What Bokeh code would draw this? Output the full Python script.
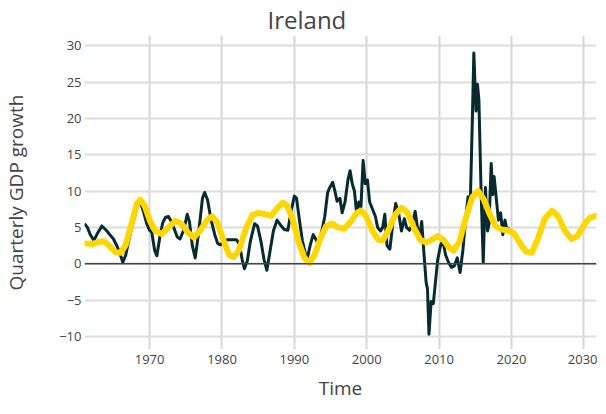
from bokeh.plotting import figure
from bokeh.models import Range1d, FixedTicker, Span, Title
from bokeh.embed import file_html
from bokeh.resources import INLINE

# Actual quarterly GDP growth (year, %)
gdp_year = [1961.0, 1961.4, 1961.8, 1962.3, 1962.8, 1963.4, 1964.0, 1964.5, 1965.0, 1965.5,
            1965.9, 1966.3, 1966.7, 1967.2, 1967.8, 1968.4, 1968.7, 1969.2, 1969.6, 1970.0,
            1970.3, 1970.7, 1971.0, 1971.4, 1971.8, 1972.2, 1972.6, 1973.0, 1973.4, 1973.8,
            1974.2, 1974.7, 1975.2, 1975.5, 1975.9, 1976.3, 1976.8, 1977.3, 1977.6, 1978.0,
            1978.5, 1979.0, 1979.4, 1979.8, 1980.3, 1980.8, 1981.4, 1982.0, 1982.4, 1982.8,
            1983.1, 1983.5, 1983.9, 1984.5, 1984.9, 1985.4, 1985.8, 1986.2, 1986.6, 1987.1,
            1987.6, 1988.1, 1988.6, 1989.1, 1989.6, 1990.0, 1990.3, 1990.7, 1991.1, 1991.5,
            1991.8, 1992.2, 1992.6, 1993.0, 1993.3, 1993.8, 1994.2, 1994.6, 1994.9, 1995.3,
            1995.6, 1995.9, 1996.3, 1996.6, 1997.0, 1997.4, 1997.7, 1998.0, 1998.3, 1998.6,
            1998.9, 1999.2, 1999.5, 1999.8, 2000.1, 2000.4, 2000.8, 2001.2, 2001.5, 2001.9,
            2002.2, 2002.5, 2002.8, 2003.2, 2003.6, 2004.0, 2004.4, 2004.8, 2005.2, 2005.5,
            2005.9, 2006.3, 2006.7, 2007.0, 2007.3, 2007.6, 2007.9, 2008.2, 2008.4, 2008.6,
            2008.9, 2009.2, 2009.5, 2009.8, 2010.2, 2010.5, 2010.9, 2011.3, 2011.7, 2012.1,
            2012.5, 2012.9, 2013.3, 2013.7, 2014.0, 2014.3, 2014.6, 2014.8, 2015.1, 2015.3,
            2015.5, 2015.8, 2016.1, 2016.4, 2016.7, 2016.9, 2017.2, 2017.4, 2017.6, 2017.9,
            2018.2, 2018.5, 2018.8, 2019.1, 2019.4, 2019.7]
gdp_growth = [5.5, 5.0, 4.0, 3.2, 4.2, 5.2, 4.6, 4.0, 3.4, 2.4,
              1.4, 0.2, 1.2, 3.6, 6.0, 8.2, 8.5, 7.0, 5.5, 4.6,
              4.3, 1.8, 1.1, 3.6, 5.6, 6.4, 6.5, 5.8, 4.8, 3.7,
              3.4, 4.6, 6.8, 5.8, 2.5, 0.8, 4.5, 9.0, 9.8, 8.8,
              6.0, 4.0, 2.8, 2.6, 3.2, 3.3, 3.3, 3.3, 2.7, 0.5,
              -0.7, 0.4, 3.0, 5.5, 5.2, 3.0, 0.6, -0.9, 1.5, 4.5,
              6.0, 5.3, 4.7, 4.6, 7.5, 9.3, 9.0, 6.0, 3.2, 1.5,
              0.8, 2.6, 4.0, 3.3, 2.7, 4.5, 6.5, 9.8, 10.5, 11.2,
              10.0, 8.6, 9.0, 7.0, 8.5, 11.5, 12.8, 11.0, 10.0, 7.0,
              8.5, 7.8, 14.2, 11.0, 11.5, 8.5, 7.5, 6.5, 5.0, 4.5,
              5.0, 6.8, 2.5, 2.0, 5.5, 8.3, 7.0, 4.5, 6.2, 5.0,
              4.6, 5.5, 7.2, 5.0, 3.6, 5.8, 1.5, -2.5, -3.5, -9.7,
              -5.2, -5.5, -2.5, 0.5, 2.5, 3.2, 1.2, 0.2, -0.5, -0.3,
              0.8, -1.2, 2.0, 6.5, 9.2, 8.0, 20.0, 29.0, 21.0, 24.7,
              22.5, 10.0, 0.2, 10.5, 4.5, 5.5, 13.8, 9.5, 12.0, 9.0,
              6.0, 7.0, 4.0, 6.0, 4.5, 5.0]

# Smooth cycle / forecast line (year, %)
cyc_year = [1961.0, 1962.0, 1963.0, 1963.7, 1964.5, 1965.3, 1966.0, 1966.7, 1967.5, 1968.2,
            1968.7, 1969.3, 1970.0, 1970.8, 1971.7, 1972.6, 1973.6, 1974.4, 1975.3, 1976.1,
            1977.0, 1978.0, 1978.6, 1979.3, 1980.2, 1981.0, 1981.6, 1982.4, 1983.3, 1984.2,
            1985.0, 1986.0, 1986.8, 1987.6, 1988.4, 1989.0, 1989.8, 1990.6, 1991.4, 1992.1,
            1992.8, 1993.6, 1994.4, 1995.2, 1996.0, 1996.9, 1997.8, 1998.6, 1999.2, 1999.9,
            2000.8, 2001.6, 2002.2, 2003.0, 2003.9, 2004.8, 2005.6, 2006.5, 2007.4, 2008.2,
            2009.0, 2009.8, 2010.6, 2011.4, 2012.0, 2012.8, 2013.6, 2014.6, 2015.4, 2016.2,
            2017.0, 2017.8, 2018.6, 2019.5, 2020.3, 2021.2, 2022.0, 2022.8, 2023.6, 2024.6,
            2025.6, 2026.4, 2027.4, 2028.3, 2029.1, 2030.0, 2030.8, 2031.75]
cyc_value = [2.8, 2.7, 3.0, 3.1, 2.4, 1.6, 1.5, 2.6, 5.5, 8.2,
             8.8, 8.0, 6.0, 4.5, 4.1, 5.0, 5.9, 5.5, 4.3, 3.6,
             4.6, 6.1, 6.5, 5.8, 3.2, 1.2, 0.9, 2.0, 4.8, 6.7,
             7.0, 6.8, 6.6, 7.6, 8.4, 8.0, 6.0, 3.0, 0.8, 0.1,
             1.2, 3.5, 5.2, 5.5, 5.0, 4.8, 5.8, 7.0, 7.3, 6.6,
             4.5, 3.3, 3.2, 4.6, 6.7, 7.7, 7.1, 5.0, 3.3, 2.9,
             3.3, 3.8, 3.3, 2.2, 1.8, 3.0, 6.0, 9.2, 10.0, 8.8,
             6.8, 5.2, 4.7, 4.6, 4.2, 2.8, 1.7, 1.5, 3.3, 6.2,
             7.3, 6.6, 4.5, 3.4, 3.8, 5.3, 6.3, 6.6]

x_ticks = [1970, 1980, 1990, 2000, 2010, 2020, 2030]
y_ticks = [-10, -5, 0, 5, 10, 15, 20, 25, 30]

FONT = "Open Sans"
TXT = "#444444"

p = figure(frame_width=512, frame_height=314, output_backend="svg", toolbar_location=None,
           x_range=Range1d(1961.0, 2031.75), y_range=Range1d(-11.8, 31.4),
           min_border_left=77, min_border_right=1, min_border_top=27, min_border_bottom=57)
p.outline_line_color = None
p.background_fill_color = "white"
p.border_fill_color = "white"

t = Title(text="Ireland", align="left", text_font=FONT, text_font_size="24px",
          text_color=TXT, text_font_style="normal", offset=183, standoff=0)
p.add_layout(t, "above")

p.xaxis.ticker = FixedTicker(ticks=x_ticks)
p.yaxis.ticker = FixedTicker(ticks=y_ticks)
p.yaxis.major_label_overrides = {-10: "\u221210", -5: "\u22125"}

for ax in (p.xaxis, p.yaxis):
    ax.axis_line_color = None
    ax.major_tick_line_color = None
    ax.minor_tick_line_color = None
    ax.major_tick_out = 0
    ax.major_tick_in = 0
    ax.minor_tick_out = 0
    ax.minor_tick_in = 0
    ax.major_label_text_font = FONT
    ax.major_label_text_font_size = "13px"
    ax.major_label_text_color = TXT
    ax.axis_label_text_font = FONT
    ax.axis_label_text_font_size = "19px"
    ax.axis_label_text_color = TXT
    ax.axis_label_text_font_style = "normal"

p.xaxis.axis_label = "Time"
p.yaxis.axis_label = "Quarterly GDP growth"
p.xaxis.major_label_standoff = 5
p.xaxis.axis_label_standoff = 8
p.yaxis.major_label_standoff = 3
p.yaxis.axis_label_standoff = 27

p.xgrid.grid_line_color = "#d6d6d6"
p.xgrid.grid_line_width = 2
p.ygrid.grid_line_color = "#dcdcdc"
p.ygrid.grid_line_width = 2

zero = Span(location=0, dimension="width", line_color="#444444", line_width=1.5)
p.add_layout(zero)

p.line(gdp_year, gdp_growth, line_color="#072a30", line_width=3, line_join="round")
p.line(cyc_year, cyc_value, line_color="#FFD700", line_width=6, line_join="round",
       line_cap="round")

open("out.html", "w").write(file_html(p, INLINE))
